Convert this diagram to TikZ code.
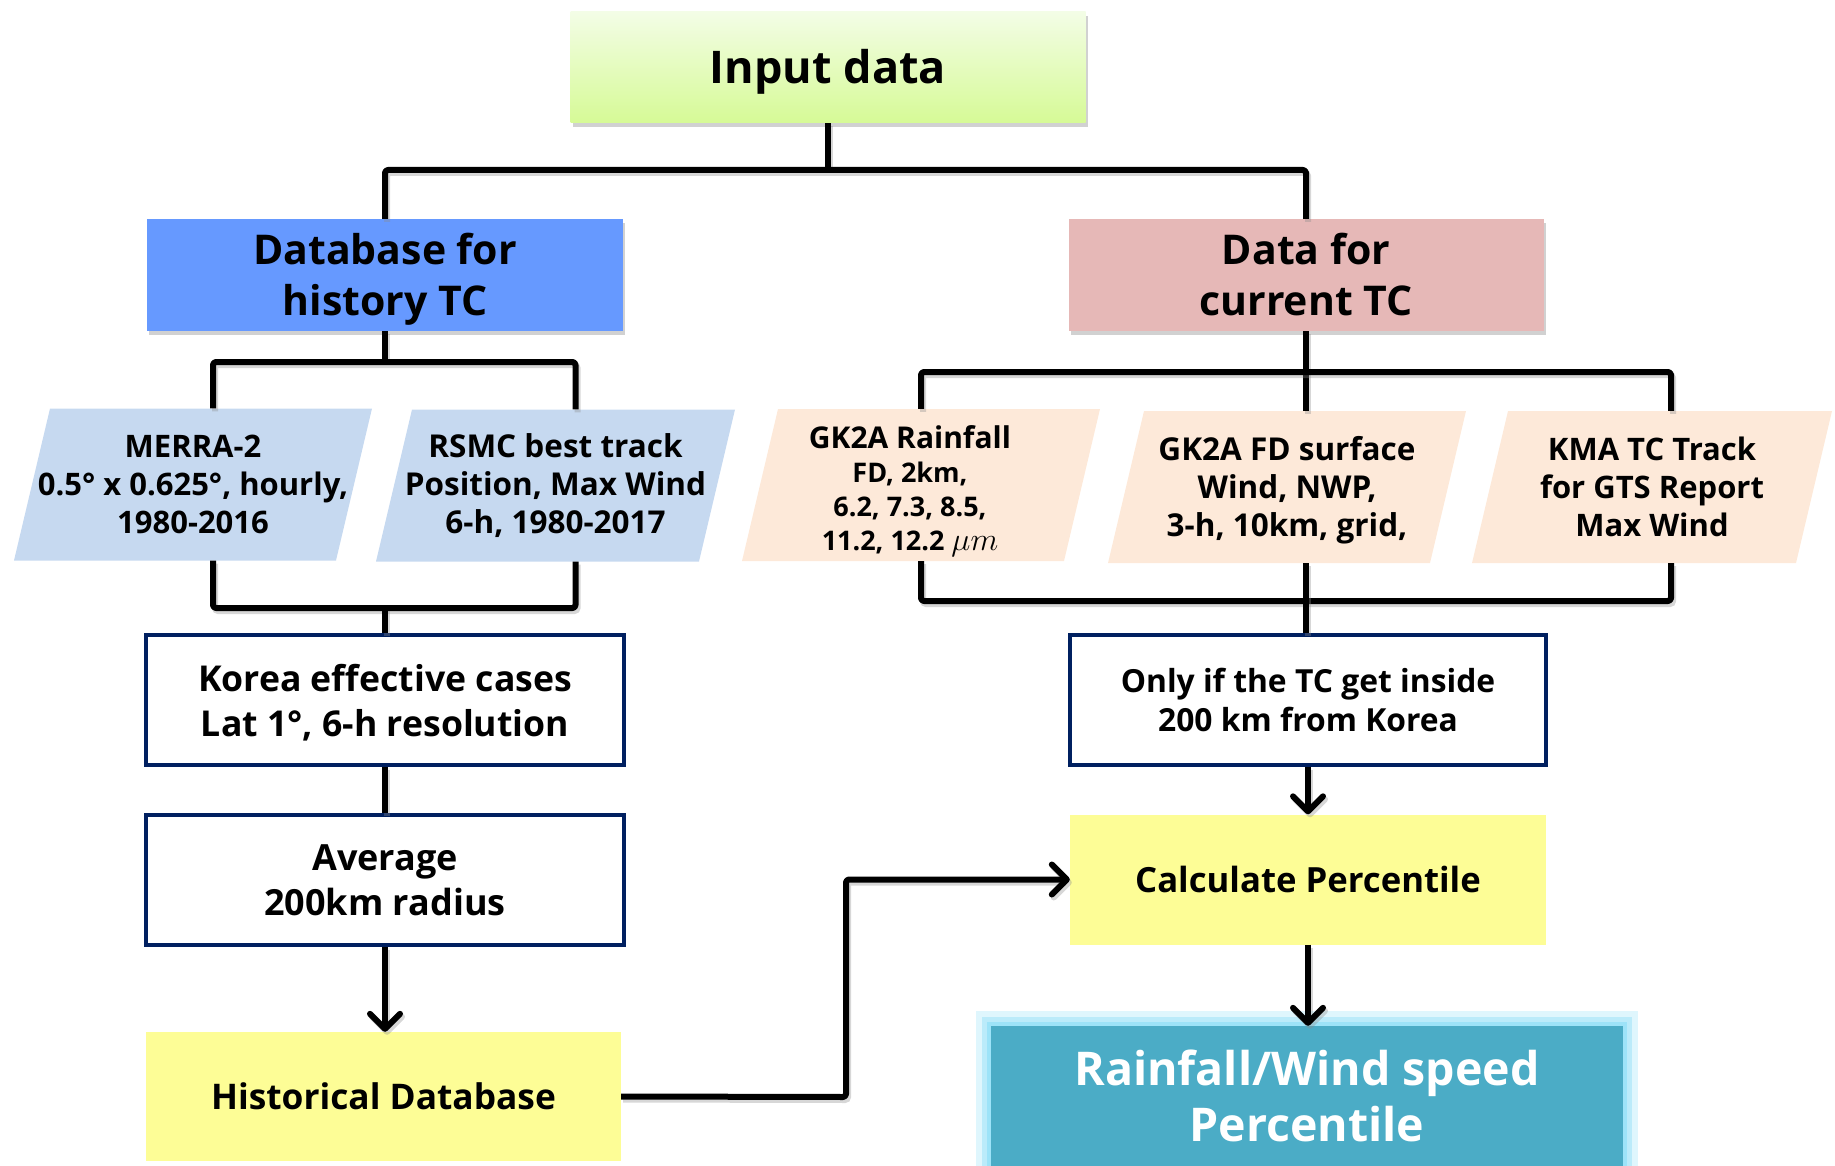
\documentclass[tikz,border=0pt]{standalone}
\usepackage{fontspec}
\setmainfont{Open Sans}
\usetikzlibrary{arrows.meta,shadows,calc}
\definecolor{inpTop}{RGB}{243,253,230}
\definecolor{inpBot}{RGB}{214,250,150}
\definecolor{histBlue}{RGB}{102,153,255}
\definecolor{currPink}{RGB}{230,184,183}
\definecolor{paraBlue}{RGB}{198,217,240}
\definecolor{paraPeach}{RGB}{253,233,217}
\definecolor{navyB}{RGB}{0,32,96}
\definecolor{yelB}{RGB}{253,253,150}
\definecolor{tealB}{RGB}{75,172,198}
\definecolor{glowB}{RGB}{150,225,248}
\newcommand\myfs[2]{\fontsize{#1}{#2}\selectfont}
\newcommand\dn[2]{\raisebox{-#1}[\height][\depth]{\begin{tabular}{@{}c@{}}#2\end{tabular}}}
\tikzset{
  base/.style={align=center, inner sep=0pt, font=\bfseries},
  shad/.style={drop shadow={shadow xshift=2pt, shadow yshift=-4pt, opacity=0.3, fill=black!60}},
  para/.style 2 args={base, minimum width=#1, minimum height=152,
    path picture={\fill[#2] ($(path picture bounding box.north west)+(36,0)$) --
      (path picture bounding box.north east) --
      ($(path picture bounding box.south east)+(-36,0)$) --
      (path picture bounding box.south west) -- cycle;}},
  wbox/.style={base, draw=navyB, line width=3.5pt, fill=white, minimum width=478, minimum height=130},
  ybox/.style={base, fill=yelB, minimum width=476, minimum height=130},
  lshad/.style={preaction={draw=black!45, opacity=0.35, line width=6pt, transform canvas={shift={(2pt,-3pt)}}}},
  conn/.style={line width=6pt, line cap=butt, line join=round, rounded corners=3pt, lshad},
  arr/.style={line width=6pt, line join=round, rounded corners=3pt, lshad,
    -{Straight Barb[length=15pt, width=30pt, round]}},
}
\begin{document}
\begin{tikzpicture}[x=1pt, y=-1pt]
\useasboundingbox (0,0) rectangle (1835,1166);
% top
\node[base, shad, top color=inpTop, bottom color=inpBot, minimum width=515, minimum height=111, font=\bfseries\myfs{45}{54}] (inp) at (828,67.5) {\dn{5pt}{Input data}};
\node[base, shad, fill=histBlue, minimum width=476, minimum height=112, font=\bfseries\myfs{41}{51}] (hist) at (385,275) {\dn{5pt}{Database for\\history TC}};
\node[base, shad, fill=currPink, minimum width=475, minimum height=112, font=\bfseries\myfs{41}{51}] (curr) at (1306,275) {\dn{5pt}{Data for\\current TC}};
% parallelograms
\node[para={358}{paraBlue}, font=\bfseries\myfs{31}{38}] (merra) at (193,484.5) {MERRA-2\\0.5° x 0.625°, hourly,\\1980-2016};
\node[para={359}{paraBlue}, font=\bfseries\myfs{31.5}{38}] (rsmc) at (555.5,485.5) {RSMC best track\\Position, Max Wind\\6-h, 1980-2017};
\node[para={358}{paraPeach}] (gk1) at (921,485) {};
\node[base, font=\bfseries\myfs{27}{34}] (gk1t) at ($(gk1.center)+(-11,6)$) {{\myfs{30}{34}GK2A Rainfall}\\FD, 2km,\\6.2, 7.3, 8.5,\\11.2, 12.2 \scalebox{1.3}{$\mu m$}};
\node[para={358}{paraPeach}, font=\bfseries\myfs{31.5}{38}] (gk2) at (1287,487) {\dn{4pt}{GK2A FD surface\\Wind, NWP,\\3-h, 10km, grid,}};
\node[para={360}{paraPeach}, font=\bfseries\myfs{31}{38}] (kma) at (1652,487) {KMA TC Track\\for GTS Report\\Max Wind};
% middle
\node[wbox, font=\bfseries\myfs{35.6}{45}] (korea) at (385,700) {\dn{5pt}{Korea effective cases\\Lat 1°, 6-h resolution}};
\node[wbox, font=\bfseries\myfs{36}{45}] (avg) at (385,880) {Average\\200km radius};
\node[ybox, minimum width=475, minimum height=129, font=\bfseries\myfs{35.3}{45}] (hdb) at (383.5,1096.5) {Historical Database};
\node[wbox, minimum width=476, font=\bfseries\myfs{31.8}{39}] (only) at (1308,700) {Only if the TC get inside\\200 km from Korea};
\node[ybox, font=\bfseries\myfs{34.7}{45}] (calc) at (1308,879.5) {Calculate Percentile};
\node[base, fill=tealB, text=white, minimum width=632, minimum height=150,
  preaction={draw=glowB, opacity=0.3, line width=30pt},
  preaction={draw=glowB, opacity=0.5, line width=18pt},
  preaction={draw=glowB, opacity=0.8, line width=8pt},
  font=\bfseries\myfs{46.5}{56}] (rain) at (1307,1101) {\dn{1pt}{Rainfall/Wind speed\\Percentile}};
% buses
\coordinate (bA) at (828,170);
\coordinate (bB) at (385,362);
\coordinate (bC) at (1306,372);
\coordinate (bD) at (385,608);
\coordinate (bE) at (1306,601);
\draw[conn] (inp.south) -- (bA);
\draw[conn] (hist.north) |- (bA) -| (curr.north);
\draw[conn] (hist.south) -- (bB);
\draw[conn] ($(merra.north)+(20,0)$) |- (bB) -| ($(rsmc.north)+(20,0)$);
\draw[conn] (curr.south) -- ($(gk2.north)+(19,0)$);
\draw[conn] (gk1.north) |- (bC) -| ($(kma.north)+(19,0)$);
\draw[conn] ($(merra.south)+(20,0)$) |- (bD) -| ($(rsmc.south)+(20,0)$);
\draw[conn] (bD) -- (korea.north);
\draw[conn] (gk1.south) |- (bE) -| ($(kma.south)+(19,0)$);
\draw[conn] ($(gk2.south)+(19,0)$) -- (only.north -| bE);
\draw[conn] (korea.south) -- (avg.north);
\draw[arr] (avg.south) -- (hdb.north -| avg.south);
\draw[arr] (only.south) -- (calc.north);
\draw[arr] (calc.south) -- (rain.north -| calc.south);
\coordinate (bF) at (846,1097);
\draw[arr] (hdb.east) -- (bF) |- (calc.west);
\end{tikzpicture}
\end{document}
